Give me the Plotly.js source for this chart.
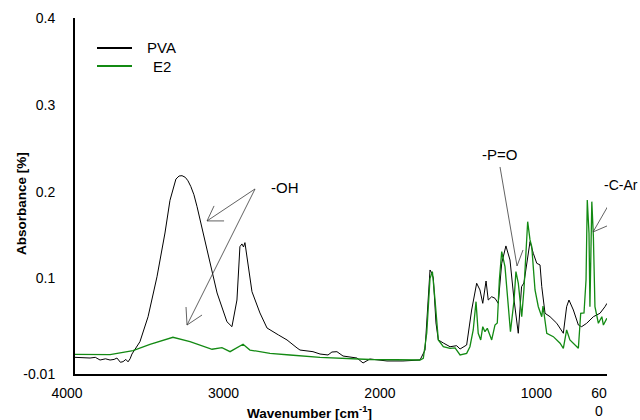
<!DOCTYPE html>
<html>
<head>
<meta charset="utf-8">
<script src="https://cdn.plot.ly/plotly-3.0.1.min.js"></script>
<style>html,body{margin:0;padding:0;background:#fff;}#chart{width:640px;height:420px;}</style>
</head>
<body>
<div id="chart"></div>
<script>
const pvaWavenumber = [4000,3950,3904,3870,3840,3805,3776,3750,3732,3710,3693,3675,3661,3648,3636,3585,3533,3476,3425,3393,3374,3355,3335,3316,3295,3278,3260,3240,3220,3156,3092,3029,2997,2965,2946,2933,2923,2914,2894,2869,2818,2773,2700,2645,2581,2562,2479,2434,2383,2358,2326,2287,2198,2159,2115,2006,1904,1795,1763,1742,1731,1720,1710,1693,1678,1646,1603,1561,1539,1497,1465,1433,1412,1394,1373,1359,1337,1316,1295,1273,1246,1220,1194,1167,1146,1131,1118,1092,1071,1049,1028,1017,996,964,921,879,858,843,815,783,762,730,687,645,613,600];
const pvaAbsorbance = [0.0092,0.0085,0.0084,0.0092,0.0061,0.0075,0.0061,0.0068,0.0084,0.0035,0.0042,0.0068,0.0040,0.0075,0.013,0.0272,0.056,0.102,0.1524,0.190,0.203,0.2145,0.218,0.2184,0.2165,0.2125,0.206,0.1965,0.1827,0.1329,0.0833,0.0502,0.0445,0.0752,0.1367,0.1398,0.1363,0.1413,0.1136,0.0848,0.0603,0.043,0.035,0.0292,0.020,0.0176,0.0157,0.013,0.0119,0.0153,0.0157,0.0107,0.0084,0.0027,0.0073,0.005,0.005,0.0061,0.0176,0.0752,0.1098,0.1063,0.1006,0.0488,0.0292,0.0257,0.0214,0.0226,0.0188,0.0234,0.0637,0.0945,0.0868,0.0714,0.0971,0.0752,0.079,0.0772,0.0714,0.1175,0.1375,0.1213,0.0752,0.0369,0.0906,0.0948,0.1098,0.1424,0.129,0.1175,0.1156,0.0906,0.0599,0.056,0.0484,0.0369,0.0675,0.0752,0.0637,0.0464,0.0445,0.0484,0.056,0.0599,0.0675,0.0714];

const e2Wavenumber = [4000,3776,3629,3521,3374,3265,3124,3061,3009,2926,2882,2754,2626,2434,2115,1795,1774,1752,1731,1716,1699,1678,1646,1603,1571,1539,1497,1476,1455,1437,1423,1407,1394,1380,1365,1337,1316,1301,1288,1273,1252,1231,1217,1194,1182,1167,1156,1145,1131,1107,1092,1081,1060,1039,1017,1009,985,943,900,879,858,837,783,768,747,734,726,715,709,697,687,677,655,633,623,601];
const e2Absorbance = [0.0127,0.0122,0.0168,0.0242,0.0323,0.0272,0.0185,0.0203,0.0157,0.0242,0.0176,0.0138,0.0119,0.0092,0.0067,0.0061,0.0081,0.0372,0.1002,0.1079,0.0752,0.0292,0.0214,0.0196,0.02,0.0119,0.0138,0.0214,0.0407,0.0733,0.0369,0.0292,0.0445,0.0387,0.0426,0.0292,0.0464,0.0488,0.0983,0.1309,0.1136,0.0637,0.0387,0.0752,0.1079,0.0948,0.0752,0.056,0.0868,0.1654,0.1444,0.1367,0.0868,0.0675,0.056,0.0683,0.0369,0.033,0.0254,0.0196,0.0407,0.0292,0.0196,0.0599,0.0603,0.0983,0.1905,0.152,0.0675,0.1885,0.1482,0.0675,0.0484,0.056,0.0464,0.0542];

const xTickValues = [4000,3000,2000,1000,600];
const xTickLabels = ["4000","3000","2000","1000","60<br>0"];
const yTickValues = [-0.01,0.1,0.2,0.3,0.4];
const yTickLabels = ["-0.01","0.1","0.2","0.3","0.4"];
const seriesNames = ["PVA","E2"];
const seriesColors = ["#000000","#138a13"];

// band labels and the points their arrows touch
const bandLabels = ["-OH","-P=O","-C-Ar"];
const bandLabelX = [2760,1290,630];
const bandLabelY = [0.2043,0.2423,0.2077];
const arrowHeadX = [3156,3284,1175,689];
const arrowHeadY = [0.1663,0.0464,0.1144,0.1536];

const font = "Arial, 'Liberation Sans', sans-serif";
const arrowColor = "#3a3a3a";

const traces = [
  {x: pvaWavenumber, y: pvaAbsorbance, type: "scatter", mode: "lines", name: seriesNames[0],
   line: {color: seriesColors[0], width: 1}, showlegend: false},
  {x: e2Wavenumber, y: e2Absorbance, type: "scatter", mode: "lines", name: seriesNames[1],
   line: {color: seriesColors[1], width: 1.3}, showlegend: false}
];

// arrow styling: pixel offsets of tail and open-V barbs from each head
const arrowTail = [[48,-32],[68,-136],[-17,-99],[27,-47]];
const arrowBarbs = [[[7,-15],[17,0]],[[-1,-18],[15,-10]],[[6,-16]],[[14,-6]]];

const shapes = [];
function pixLine(hx, hy, dx, dy) {
  shapes.push({type: "line", xref: "x", yref: "y", xsizemode: "pixel", ysizemode: "pixel",
    xanchor: hx, yanchor: hy, x0: 0, y0: 0, x1: dx, y1: -dy,
    line: {color: arrowColor, width: 0.8}});
}
for (let i = 0; i < arrowHeadX.length; i++) {
  pixLine(arrowHeadX[i], arrowHeadY[i], arrowTail[i][0], arrowTail[i][1]);
  arrowBarbs[i].forEach(b => pixLine(arrowHeadX[i], arrowHeadY[i], b[0], b[1]));
}
// legend swatches
const legendRowY = [(374-48)/356, (374-66)/356];
for (let i = 0; i < 2; i++) {
  shapes.push({type: "line", xref: "paper", yref: "paper",
    x0: (97-75)/532, x1: (132-75)/532, y0: legendRowY[i], y1: legendRowY[i],
    line: {color: seriesColors[i], width: 2}});
}

const annotations = [
  {xref: "paper", yref: "paper", x: (309-75)/532, y: -(412-374)/356, text: "<b>Wavenumber [cm<sup>-1</sup>]</b>",
   showarrow: false, xanchor: "center", yanchor: "middle", font: {family: font, size: 13.5, color: "#000"}},
  {xref: "paper", yref: "paper", x: -(75-21)/532, y: (374-204)/356, text: "<b>Absorbance [%]</b>", textangle: -90,
   showarrow: false, xanchor: "center", yanchor: "middle", font: {family: font, size: 13.5, color: "#000"}},
  {xref: "paper", yref: "paper", x: (145-75)/532, y: legendRowY[0], text: seriesNames[0], showarrow: false,
   xanchor: "left", yanchor: "middle", font: {family: font, size: 15, color: "#000"}},
  {xref: "paper", yref: "paper", x: (151-75)/532, y: legendRowY[1], text: seriesNames[1], showarrow: false,
   xanchor: "left", yanchor: "middle", font: {family: font, size: 15, color: "#000"}}
];
for (let i = 0; i < bandLabels.length; i++) {
  annotations.push({xref: "x", yref: "y", x: bandLabelX[i], y: bandLabelY[i], text: bandLabels[i],
    showarrow: false, xanchor: i === 1 ? "center" : "left", yanchor: "middle",
    font: {family: font, size: i === 2 ? 14 : 15, color: "#000"}});
}

const layout = {
  width: 640, height: 420,
  margin: {l: 75, r: 33, t: 18, b: 46},
  paper_bgcolor: "#ffffff", plot_bgcolor: "#ffffff",
  font: {family: font, size: 14, color: "#000"},
  showlegend: false,
  xaxis: {
    range: [4000, 600], autorange: false,
    tickvals: xTickValues, ticktext: xTickLabels, ticks: "",
    ticklabelshift: 8, ticklabelstandoff: 5,
    showgrid: false, zeroline: false, showline: true, linecolor: "#000", linewidth: 2,
    tickfont: {family: font, size: 14, color: "#000"}
  },
  yaxis: {
    range: [-0.01, 0.4], autorange: false,
    tickvals: yTickValues, ticktext: yTickLabels, ticks: "",
    ticklabelstandoff: 15,
    showgrid: false, zeroline: false, showline: true, linecolor: "#000", linewidth: 2,
    tickfont: {family: font, size: 14, color: "#000"}
  },
  shapes: shapes,
  annotations: annotations
};

Plotly.newPlot("chart", traces, layout, {displayModeBar: false, staticPlot: true});
</script>
</body>
</html>
